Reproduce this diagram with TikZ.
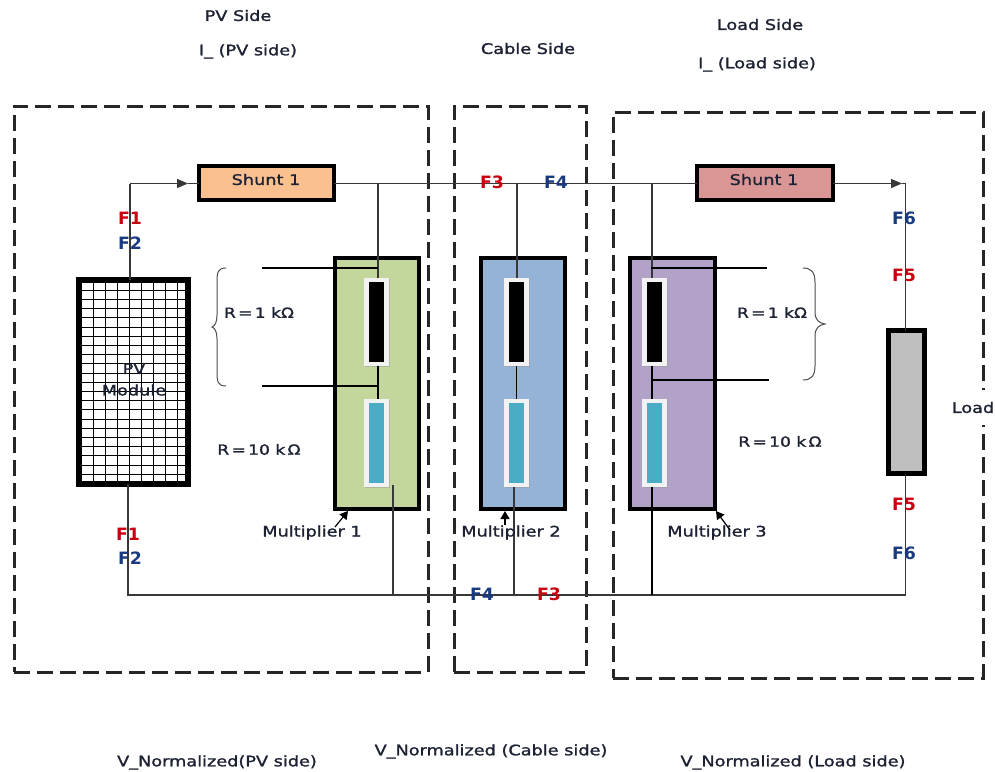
\documentclass[tikz,border=0pt]{standalone}
\usepackage{fontspec}
\setmainfont{DejaVu Sans}
\newfontfamily\lblfont[FakeStretch=1.22,FakeBold=1.4]{DejaVu Sans}
\newfontfamily\ffont[FakeStretch=1.02]{DejaVu Sans Bold}
\usetikzlibrary{arrows.meta,shadows}
\definecolor{shuntA}{HTML}{FAC090}
\definecolor{shuntB}{HTML}{D99694}
\definecolor{multA}{HTML}{C3D69B}
\definecolor{multB}{HTML}{95B3D7}
\definecolor{multC}{HTML}{B3A2C7}
\definecolor{loadgray}{HTML}{BFBFBF}
\definecolor{rteal}{HTML}{4BACC6}
\definecolor{rwhite}{HTML}{F2F2F2}
\definecolor{wirec}{HTML}{383838}
\definecolor{txt}{HTML}{1C2233}
\definecolor{fred}{HTML}{C80010}
\definecolor{fblue}{HTML}{1A3A80}
\tikzset{
  x=1pt,y=-1pt,
  zone/.style={draw=black!85,line width=3pt,dash pattern=on 16pt off 7pt,outer sep=0pt,inner sep=0pt,anchor=north west},
  box/.style={draw=black,line width=4pt,inner sep=0pt,outer sep=0pt,anchor=north west},
  rframe/.style={fill=rwhite,draw=none,inner sep=0pt,outer sep=0pt,minimum width=25pt,minimum height=88pt,drop shadow={shadow xshift=1.2pt,shadow yshift=-1.2pt,fill=black!40}},
  rcore/.style={draw=none,inner sep=0pt,outer sep=0pt,minimum width=15pt,minimum height=80pt},
  wire/.style={draw=wirec,line width=1.5pt},
  thin wire/.style={draw=black,line width=1.1pt},
  tip/.style={-{Triangle[length=11pt,width=9pt]}},
  small tip/.style={-{Triangle[length=8pt,width=9pt]},line width=1.2pt},
  lbl/.style={font=\lblfont\fontsize{14.5}{14.5}\selectfont,text=txt,inner sep=0pt},
  rlbl/.style={font=\lblfont\fontsize{14}{14}\selectfont,text=txt,inner sep=0pt},
  fr/.style={font=\ffont\fontsize{17}{17}\selectfont,text=fred,inner sep=0pt},
  fb/.style={font=\ffont\fontsize{17}{17}\selectfont,text=fblue,inner sep=0pt},
  bracec/.style={draw=black!70,line width=1pt},
}
\begin{document}
\begin{tikzpicture}
\useasboundingbox (0,0) rectangle (995,771);
% zones
\node[zone,minimum width=414pt,minimum height=566pt] (zpv) at (14,106) {};
\node[zone,minimum width=132pt,minimum height=566pt] (zcable) at (454,106) {};
\node[zone,minimum width=370pt,minimum height=566pt] (zload) at (613,112) {};
% junction coordinates
\coordinate (c1) at (130,183.5);
\coordinate (a1) at (188,183.5);
\coordinate (tp1) at (378,183.5);
\coordinate (tp2) at (517,183.5);
\coordinate (tp3) at (652,183.5);
\coordinate (a2) at (902,183.5);
\coordinate (c2) at (905.5,183.5);
\coordinate (c3) at (128,595);
\coordinate (bt0) at (393,485);
\coordinate (bt1) at (393,595);
\coordinate (bt2) at (514,595);
\coordinate (bt3) at (652,595);
\coordinate (c4) at (905.5,595);
\coordinate (b1a) at (262,268);
\coordinate (b1b) at (262,386);
\coordinate (b2a) at (767,268);
\coordinate (b2b) at (769,380);
\coordinate (n1a) at (378,268);
\coordinate (n1b) at (378,386);
\coordinate (n2a) at (651,268);
\coordinate (n2b) at (653,380);
% boxes
\node[box,fill=shuntA,minimum width=135.5pt,minimum height=34pt] (s1) at (198.7,166) {};
\node[box,fill=shuntB,minimum width=136pt,minimum height=34pt] (s2) at (697,166) {};
\node[box,fill=multA,minimum width=84.3pt,minimum height=250.7pt] (m1) at (334.7,258) {};
\node[box,fill=multB,minimum width=84.3pt,minimum height=250.7pt] (m2) at (481,258) {};
\node[box,fill=multC,minimum width=85pt,minimum height=250.7pt] (m3) at (630.3,258) {};
\node[box,fill=loadgray,line width=5pt,minimum width=35.5pt,minimum height=143pt] (ld) at (888.5,330.5) {};
\node[box,fill=white,line width=6pt,minimum width=108.7pt,minimum height=204pt] (pv) at (79,280) {};
% PV grid
\begin{scope}
\clip (82,283) rectangle (186,481);
\foreach \gx in {93,105.1,...,190} \draw[black,line width=.9pt] (\gx,279) -- (\gx,487);
\foreach \gy in {281,290.2,...,490} \draw[black,line width=.9pt] (77,\gy) -- (190,\gy);
\end{scope}
% resistors
\foreach \nm/\cx in {a/376,b/516.5,c/654}{
  \node[rframe] (r\nm1) at (\cx,322) {};
  \node[rcore,fill=black] (k\nm1) at (\cx,322) {};
  \node[rframe] (r\nm2) at (\cx,443) {};
  \node[rcore,fill=rteal] (k\nm2) at (\cx,443) {};
}
% wires
\draw[wire] (pv.north -| c1) -- (c1);
\draw[wire,tip] (c1) -- (a1);
\draw[wire] (a1) -- (s1.west |- a1);
\draw[wire] (s1.east |- a1) -- (s2.west |- a1);
\draw[wire,tip] (s2.east |- a2) -- (a2);
\draw[wire] (a2) -- (c2);
\draw[wire] (c2) -- (ld.north -| c2);
\draw[wire] (pv.south -| c3) -- (c3) -- (c4) -- (ld.south -| c4);
\draw[wire] (tp1) -- (ra1.north -| tp1);
\draw[wire] (tp2) -- (rb1.north -| tp2);
\draw[wire] (tp3) -- (rc1.north -| tp3);
\draw[thin wire] (ra1.south -| tp1) -- (ra2.north -| tp1);
\draw[thin wire] (rb1.south) -- (rb2.north);
\draw[thin wire] (rc1.south -| tp3) -- (rc2.north -| tp3);
\draw[wire] (bt0) -- (bt1);
\draw[wire] (rb2.south -| bt2) -- (bt2);
\draw[thin wire] (rc2.south -| bt3) -- (bt3);
\draw[thin wire] (b1a) -- (n1a);
\draw[thin wire] (b1b) -- (n1b);
\draw[thin wire] (n2a) -- (b2a);
\draw[thin wire] (n2b) -- (b2b);
% braces
\draw[bracec] (226,268) .. controls (218,268) and (217,272) .. (217,282) -- (217,315) .. controls (217,322) and (215,326) .. (212,327) .. controls (215,328) and (217,332) .. (217,339) -- (217,372) .. controls (217,382) and (218,386) .. (226,386);
\draw[bracec] (803,268) .. controls (811,268) and (815,272) .. (815,282) -- (815,312) .. controls (815,320) and (819,323) .. (825,324) .. controls (819,325) and (815,328) .. (815,336) -- (815,366) .. controls (815,376) and (811,380) .. (803,380);
% multiplier pointers
\node[lbl] (lm1) at (312,532.5) {Multiplier 1};
\node[lbl] (lm2) at (511,532.5) {Multiplier 2};
\node[lbl] (lm3) at (717,532.5) {Multiplier 3};
\draw[black,small tip] (335,527) -- (348,511);
\draw[black,small tip] (505,525) -- (505,511);
\draw[black,small tip] (730,530) -- (716,511);
% labels
\node[lbl] (l1) at (238,15.5) {PV Side};
\node[lbl] (l2) at (248,51.5) {I\_ (PV side)};
\node[lbl] (l3) at (528,48.5) {Cable Side};
\node[lbl] (l4) at (760,24.5) {Load Side};
\node[lbl] (l5) at (757,64.5) {I\_ (Load side)};
\node[lbl] (l6) at (217,762.5) {V\_Normalized(PV side)};
\node[lbl] (l7) at (491,751.5) {V\_Normalized (Cable side)};
\node[lbl] (l8) at (793,762.5) {V\_Normalized (Load side)};
\node[lbl] (ts1) at (266,179.5) {Shunt 1};
\node[lbl] (ts2) at (764,179.5) {Shunt 1};
\node[rlbl] (r1) at (259,312.5) {R\,=\,1 kΩ};
\node[rlbl] (r2) at (259,449.5) {R\,=\,10 k\,Ω};
\node[rlbl] (r3) at (772,312.5) {R\,=\,1 kΩ};
\node[rlbl] (r4) at (780,441.5) {R\,=\,10 k\,Ω};
\node[lbl,align=center] (tpv) at (134,379.5) {PV\\[7pt]Module};
\node[lbl,fill=white,inner ysep=12pt,inner xsep=1pt] (tload) at (973,407.5) {Load};
% fault labels
\node[fr] (f1a) at (130,218.5) {F1};
\node[fb] (f2a) at (130,243.5) {F2};
\node[fr] (f1b) at (128,534.5) {F1};
\node[fb] (f2b) at (130,558.5) {F2};
\node[fr] (f3a) at (492,182.5) {F3};
\node[fb] (f4a) at (556,182.5) {F4};
\node[fb] (f4b) at (482,594.5) {F4};
\node[fr] (f3b) at (549,594.5) {F3};
\node[fb] (f6a) at (904,218.5) {F6};
\node[fr] (f5a) at (904,275.5) {F5};
\node[fr] (f5b) at (904,504.5) {F5};
\node[fb] (f6b) at (904,553.5) {F6};
\end{tikzpicture}
\end{document}
